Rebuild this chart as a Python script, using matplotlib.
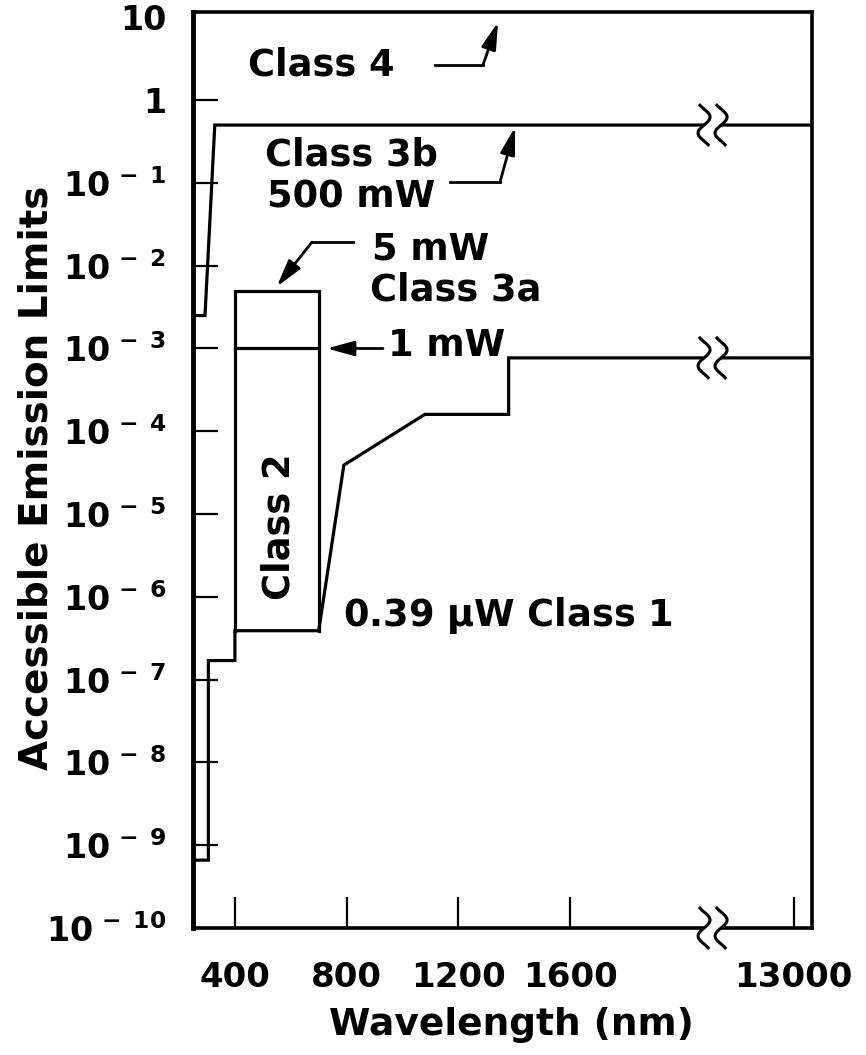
import numpy as np
import matplotlib

matplotlib.use("Agg")
import matplotlib.pyplot as plt
from matplotlib.patches import Polygon
from matplotlib.transforms import ScaledTranslation

plt.rcParams["font.family"] = ["DejaVu Sans"]
plt.rcParams["font.weight"] = "bold"
plt.rcParams["mathtext.default"] = "bf"

# wavelength -> axis position; the axis is broken between 2000 and 13000 nm
BREAK_WL = [0, 2000, 13000, 14000]
BREAK_POS = [0, 2000, 2400, 2466]


def pos(wl):
    return np.interp(wl, BREAK_WL, BREAK_POS)


# accessible emission limits (W) vs wavelength (nm)
class3b_wl = [250, 293, 328, 14000]
class3b_w = [2.5e-3, 2.5e-3, 0.5, 0.5]

class1_wl = [250, 305, 305, 400, 400, 700, 790, 1080, 1380, 1380, 14000]
class1_w = [6.6e-10, 6.6e-10, 1.7e-7, 1.7e-7, 3.9e-7, 3.9e-7, 3.9e-5, 1.6e-4, 1.6e-4, 7.7e-4, 7.7e-4]

class2_wl = [400, 400, 700, 700]
class2_w = [3.9e-7, 5e-3, 5e-3, 3.9e-7]

class3a_wl = [400, 700]
class3a_w = [1e-3, 1e-3]

xtick_wl = [400, 800, 1200, 1600, 13000]
xtick_labels = ["400", "800", "1200", "1600", "13000"]
ytick_exp = list(range(-10, 2))

fig = plt.figure(figsize=(8.66, 10.55), dpi=100)
ax = fig.add_axes([193 / 866, 1 - 928 / 1055, 619 / 866, 916 / 1055])

line_kw = dict(color="black", lw=2.3, solid_joinstyle="miter")
ax.plot(pos(class3b_wl), class3b_w, **line_kw)
ax.plot(pos(class1_wl), class1_w, **line_kw)
ax.plot(pos(class2_wl), class2_w, **line_kw)
ax.plot(pos(class3a_wl), class3a_w, **line_kw)

ax.set_yscale("log")
ax.set_xlim(pos(250), pos(14000))
ax.set_ylim(1e-10, 11.6)

ax.set_xticks(pos(xtick_wl))
ax.set_xticklabels(xtick_labels, fontsize=24.5, fontweight="bold")
ax.set_yticks([10.0**e for e in ytick_exp])
ylabels = []
for e in ytick_exp:
    if e == 0:
        ylabels.append("1")
    elif e == 1:
        ylabels.append("10")
    else:
        ylabels.append(rf"$10^{{\,-\;{abs(e)}}}$")
ax.set_yticklabels(ylabels, fontsize=24)
ax.yaxis.set_minor_locator(matplotlib.ticker.NullLocator())
ax.tick_params(axis="y", direction="in", length=18, width=1.6, pad=19)
ax.tick_params(axis="x", direction="in", length=22, width=1.6, pad=24)
# the 10 and 1e-10 positions sit on the frame, no tick mark there
for t in (ax.yaxis.get_major_ticks()[0], ax.yaxis.get_major_ticks()[-1]):
    t.tick1line.set_visible(False)

for side, sp in ax.spines.items():
    sp.set_linewidth(3.5 if side == "left" else 2.6)

ax.set_ylabel("Accessible Emission Limits", fontsize=28, fontweight="bold")
ax.yaxis.set_label_coords(-0.222, 0.492)
ax.set_xlabel("Wavelength (nm)", fontsize=27, fontweight="bold")
ax.xaxis.set_label_coords(0.514, -0.106)
ax.xaxis.label.set_va("center")

# class labels and leaders
txt = dict(fontsize=26.5, fontweight="bold", va="center", ha="left")
arrow = dict(arrowstyle="-|>,head_length=1.1,head_width=0.3", mutation_scale=15,
             color="black", lw=2, shrinkA=0, shrinkB=0)

ax.text(446, 2.65, "Class 4", **txt)
ax.plot([1116, 1288], [2.65, 2.65], color="black", lw=2)
ax.annotate("", xy=(1342, 8.75), xytext=(1288, 2.65), arrowprops=arrow)

ax.text(507, 0.217, "Class 3b", **txt)
ax.text(515, 0.0674, "500 mW", **txt)
ax.plot([1170, 1349], [0.102, 0.102], color="black", lw=2)
ax.annotate("", xy=(1403, 0.47), xytext=(1349, 0.102), arrowprops=arrow)

ax.text(891, 0.0159, "5 mW", **txt)
ax.text(883, 5.07e-3, "Class 3a", **txt)
ax.plot([823, 676], [0.0193, 0.0193], color="black", lw=2)
ax.annotate("", xy=(550, 5.6e-3), xytext=(676, 0.0193), arrowprops=arrow)

ax.text(948, 1.1e-3, "1 mW", **txt)
ax.annotate("", xy=(729, 1e-3), xytext=(930, 1e-3), arrowprops=arrow)

ax.text(558, 7e-6, "Class 2", fontsize=26.5, fontweight="bold",
        rotation=90, ha="center", va="center")
ax.text(787, 6.0e-7, r"0.39 $\mathrm{\mu}$W Class 1", **txt)


def squiggle(x, y):
    tr = fig.dpi_scale_trans + ScaledTranslation(x, y, ax.transData)
    s = np.linspace(-0.12, 1.12, 80)
    yy = 0.16 - 0.32 * s
    xx = 0.06 * np.sin(2 * np.pi * s)
    left = np.column_stack([xx - 0.085, yy])
    right = np.column_stack([xx + 0.085, yy])
    gap = Polygon(np.vstack([left, right[::-1]]), closed=True, facecolor="white",
                  edgecolor="none", transform=tr, clip_on=False, zorder=5)
    ax.add_patch(gap)
    for c in (left, right):
        ax.plot(c[:, 0], c[:, 1], color="black", lw=2.2, transform=tr,
                clip_on=False, zorder=6)


for yb in (0.5, 7.7e-4, 1e-10):
    squiggle(2110, yb)

fig.savefig("out.png", dpi=100)
